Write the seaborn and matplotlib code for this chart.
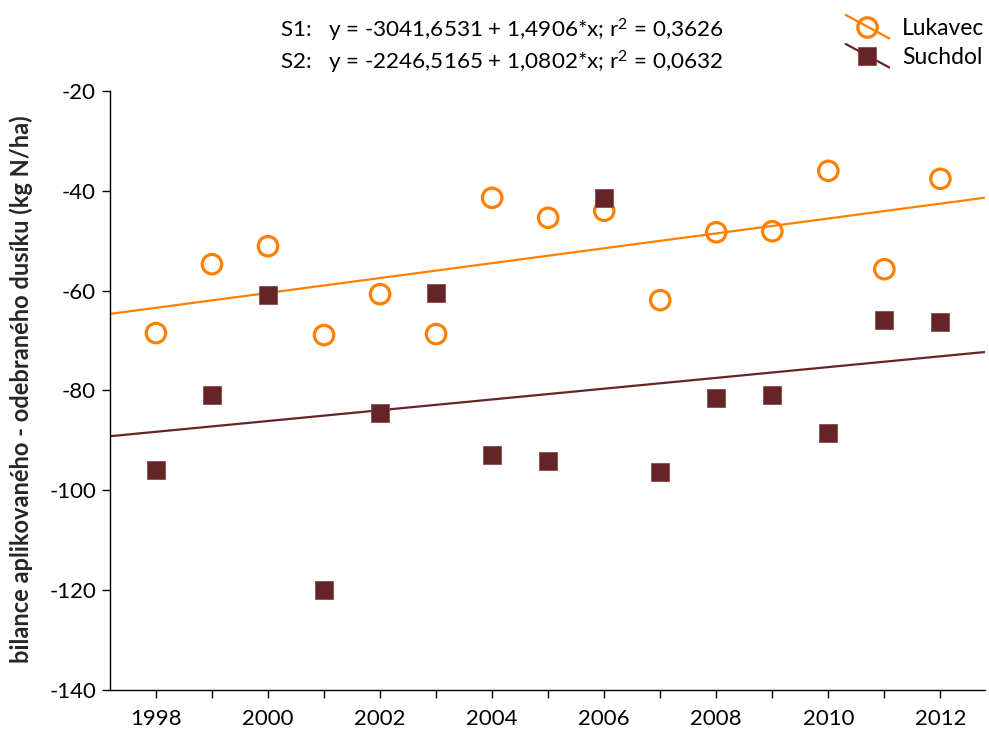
import numpy as np
import pandas as pd
import seaborn as sns
import matplotlib
matplotlib.use("Agg")
import matplotlib.pyplot as plt
from matplotlib.lines import Line2D
from matplotlib.legend_handler import HandlerBase

# --- data -------------------------------------------------------------
years = [1998, 1999, 2000, 2001, 2002, 2003, 2004, 2005,
         2006, 2007, 2008, 2009, 2010, 2011, 2012]
lukavec = [-68.5, -54.7, -51.1, -68.9, -60.7, -68.7, -41.4, -45.4,
           -44.0, -61.9, -48.3, -48.1, -36.0, -55.7, -37.6]
suchdol = [-96.0, -80.9, -60.9, -120.0, -84.5, -60.5, -92.9, -94.1,
           -41.4, -96.4, -81.5, -80.9, -88.5, -65.9, -66.3]

# regression coefficients (intercept, slope, r2)
fit_s1 = (-3041.6531, 1.4906, 0.3626)
fit_s2 = (-2246.5165, 1.0802, 0.0632)

series_names = ["Lukavec", "Suchdol"]
y_ticks = [-20, -40, -60, -80, -100, -120, -140]
x_ticks = [1998, 2000, 2002, 2004, 2006, 2008, 2010, 2012]
y_label = "bilance aplikovaného - odebraného dusíku (kg N/ha)"

# --- style ------------------------------------------------------------
sns.set_theme(style="ticks")
plt.rcParams["font.family"] = ["Lato", "DejaVu Sans"]
plt.rcParams["text.color"] = "black"
plt.rcParams["axes.unicode_minus"] = False
plt.rcParams["mathtext.fontset"] = "custom"
plt.rcParams["mathtext.rm"] = "Lato"
plt.rcParams["mathtext.default"] = "regular"

ORANGE = "#FF8000"
BROWN = "#652526"
BROWN_EDGE = "#8a4a4a"

df = pd.DataFrame({"rok": years, "Lukavec": lukavec, "Suchdol": suchdol})

fig = plt.figure(figsize=(9.89, 7.32), dpi=100)
ax = fig.add_axes([0.1112, 0.0574, 0.885, 0.8183])

xlim = (1997.18, 2012.8)

# regression lines over the whole x-range
xs = np.array(xlim)
sns.lineplot(x=xs, y=fit_s1[0] + fit_s1[1] * xs, ax=ax, color=ORANGE, lw=1.6)
sns.lineplot(x=xs, y=fit_s2[0] + fit_s2[1] * xs, ax=ax, color=BROWN, lw=1.6)

sns.scatterplot(data=df, x="rok", y="Lukavec", ax=ax, marker="o", s=14 ** 2,
                facecolor="none", edgecolor=ORANGE, linewidth=2.3, zorder=3)
sns.scatterplot(data=df, x="rok", y="Suchdol", ax=ax, marker="s", s=13.5 ** 2,
                color=BROWN, edgecolor=BROWN_EDGE, linewidth=0.6, zorder=4)

ax.set_xlim(*xlim)
ax.set_ylim(-140, -20)
ax.set_yticks(y_ticks)
ax.set_xticks(x_ticks)
ax.set_xticks(years, minor=True)
ax.set_xlabel("")
ax.set_ylabel(y_label, fontsize=17, fontweight="bold")
ax.yaxis.set_label_coords(-0.088, 0.502)
for s in ("top", "right"):
    ax.spines[s].set_visible(False)
for s in ("left", "bottom"):
    ax.spines[s].set_color("black")
    ax.spines[s].set_linewidth(1.0)
ax.tick_params(axis="both", which="both", direction="out", colors="black",
               labelsize=16, width=1.0)
ax.tick_params(axis="y", length=6, pad=4)
ax.tick_params(axis="x", which="major", length=6, pad=8)
ax.tick_params(axis="x", which="minor", length=6)


# legend entries drawn Excel-style: marker with a diagonal line through it
class DiagonalHandler(HandlerBase):
    def __init__(self, marker, ms, mfc, mec, mew, color, **kw):
        super().__init__(**kw)
        self.marker, self.ms, self.mfc = marker, ms, mfc
        self.mec, self.mew, self.color = mec, mew, color

    def create_artists(self, legend, orig_handle, xdescent, ydescent,
                       width, height, fontsize, trans):
        x0, x1 = -xdescent, -xdescent + width
        cy = -ydescent + height / 2
        dy = width * 0.27
        line = Line2D([x0, x1], [cy + dy, cy - dy], color=self.color,
                      lw=1.6, transform=trans)
        mk = Line2D([(x0 + x1) / 2], [cy], marker=self.marker, ms=self.ms,
                    mfc=self.mfc, mec=self.mec, mew=self.mew, ls="none",
                    transform=trans)
        return [line, mk]


h1 = Line2D([], [], color=ORANGE)
h2 = Line2D([], [], color=BROWN)
fig.legend([h1, h2], series_names, loc="upper right",
           bbox_to_anchor=(1.016, 1.004), frameon=False, fontsize=16.5,
           handlelength=1.9, handletextpad=0.55, labelspacing=0.35,
           handler_map={
               h1: DiagonalHandler("o", 14, "none", ORANGE, 2.3, ORANGE),
               h2: DiagonalHandler("s", 13.5, BROWN, BROWN_EDGE, 0.6, BROWN),
           })

# regression equations
def eq_text(tag, fit):
    a, b, r2 = fit
    fmt = lambda v, d: f"{v:.{d}f}".replace(".", ",")
    return f"{tag}:   y = {fmt(a, 4)} + {fmt(b, 4)}*x; r$^2$ = {fmt(r2, 4)}"

fig.text(0.507, 0.959, eq_text("S1", fit_s1), ha="center", va="center", fontsize=16.2)
fig.text(0.507, 0.915, eq_text("S2", fit_s2), ha="center", va="center", fontsize=16.2)

fig.savefig("out.png", dpi=100)
